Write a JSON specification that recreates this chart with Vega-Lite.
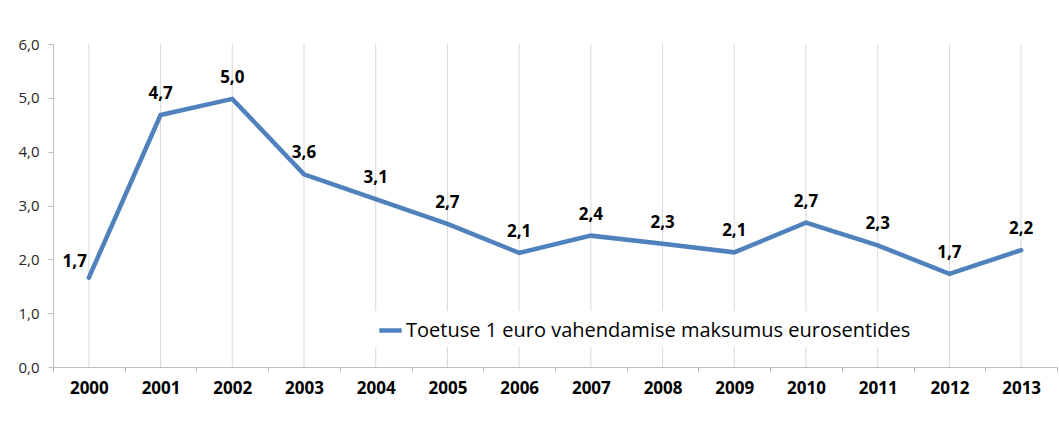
{
  "$schema": "https://vega.github.io/schema/vega-lite/v6.json",
  "width": 1004,
  "height": 323,
  "autosize": {"type": "none"},
  "padding": {"left": 53, "top": 44, "right": 2, "bottom": 60},
  "background": "white",
  "config": {
    "locale": {"number": {"decimal": ",", "thousands": " ", "grouping": [3], "currency": ["", " €"]}},
    "view": {"stroke": null},
    "font": "Open Sans"
  },
  "data": {
    "values": [
      {"aasta": "2000", "v": 1.66},
      {"aasta": "2001", "v": 4.68},
      {"aasta": "2002", "v": 4.98},
      {"aasta": "2003", "v": 3.58},
      {"aasta": "2004", "v": 3.12},
      {"aasta": "2005", "v": 2.66},
      {"aasta": "2006", "v": 2.12},
      {"aasta": "2007", "v": 2.44},
      {"aasta": "2008", "v": 2.29},
      {"aasta": "2009", "v": 2.13},
      {"aasta": "2010", "v": 2.68},
      {"aasta": "2011", "v": 2.26},
      {"aasta": "2012", "v": 1.73},
      {"aasta": "2013", "v": 2.17}
    ]
  },
  "encoding": {
    "x": {
      "field": "aasta",
      "type": "ordinal",
      "bandPosition": 0.5,
      "scale": {"type": "band", "paddingInner": 0, "paddingOuter": 0},
      "axis": {
        "title": null,
        "labelAngle": 0,
        "labelFont": "Open Sans",
        "labelFontWeight": "bold",
        "labelFontSize": 17,
        "labelColor": "#000000",
        "labelPadding": 8,
        "tickBand": "extent",
        "tickColor": "#bfbfbf",
        "tickSize": 5,
        "domainColor": "#bfbfbf",
        "grid": false
      }
    }
  },
  "layer": [
    {
      "mark": {"type": "rule", "color": "#d9d9d9", "strokeWidth": 1},
      "encoding": {
        "y": {"datum": 0, "type": "quantitative"},
        "y2": {"datum": 6}
      }
    },
    {
      "mark": {"type": "line", "strokeWidth": 4.5, "strokeCap": "round", "strokeJoin": "miter"},
      "encoding": {
        "y": {
          "field": "v",
          "type": "quantitative",
          "scale": {"domain": [0, 6], "nice": false},
          "axis": {
            "title": null,
            "values": [0, 1, 2, 3, 4, 5, 6],
            "format": ".1f",
            "grid": false,
            "labelFont": "Open Sans",
            "labelFontSize": 15,
            "labelColor": "#262626",
            "labelPadding": 9,
            "tickColor": "#bfbfbf",
            "tickSize": 5,
            "domainColor": "#bfbfbf"
          }
        },
        "color": {
          "datum": "Toetuse 1 euro vahendamise maksumus eurosentides",
          "scale": {"range": ["#4f81bd"]},
          "legend": {
            "title": null,
            "orient": "none",
            "legendX": 318,
            "legendY": 267,
            "fillColor": "white",
            "padding": 6,
            "symbolType": "stroke",
            "symbolStrokeWidth": 4.5,
            "symbolSize": 500,
            "labelFont": "Open Sans",
            "labelFontSize": 20,
            "labelColor": "#000000",
            "labelOffset": 2,
            "labelLimit": 800
          }
        }
      }
    },
    {
      "transform": [{"filter": "datum.aasta != '2000'"}],
      "mark": {"type": "text", "font": "Open Sans", "fontWeight": "bold", "fontSize": 17, "dy": -21, "baseline": "middle", "color": "#000000"},
      "encoding": {
        "y": {"field": "v", "type": "quantitative"},
        "text": {"field": "v", "type": "quantitative", "format": ".1f"}
      }
    },
    {
      "transform": [{"filter": "datum.aasta == '2000'"}],
      "mark": {"type": "text", "font": "Open Sans", "fontWeight": "bold", "fontSize": 17, "dx": -2, "dy": -16, "align": "right", "baseline": "middle", "color": "#000000"},
      "encoding": {
        "y": {"field": "v", "type": "quantitative"},
        "text": {"field": "v", "type": "quantitative", "format": ".1f"}
      }
    }
  ]
}
